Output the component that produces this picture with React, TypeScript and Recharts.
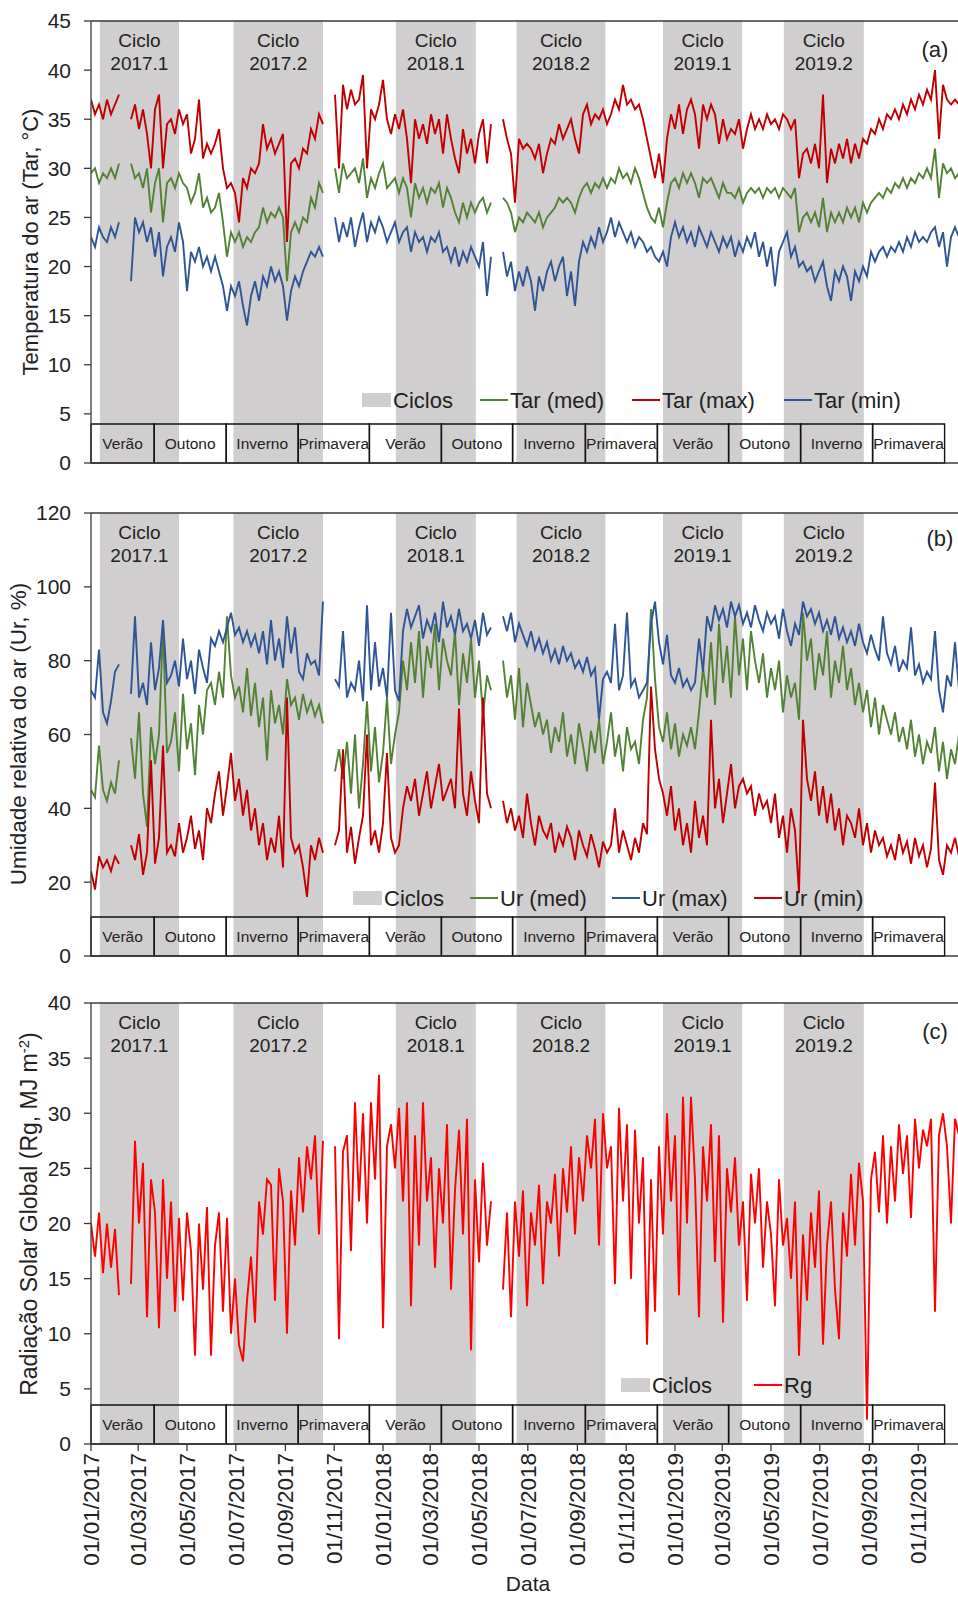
import { LineChart, Line, XAxis, YAxis, ReferenceArea, ReferenceLine } from 'recharts'

// one value every STEP days, day 0 = 01/01/2017
const STEP = 5

const TICK_DAYS = [0, 59, 120, 181, 243, 304, 365, 424, 485, 546, 608, 669, 730, 789, 850, 911, 973, 1034]
const TICK_LABELS = ['01/01/2017', '01/03/2017', '01/05/2017', '01/07/2017', '01/09/2017', '01/11/2017', '01/01/2018', '01/03/2018', '01/05/2018', '01/07/2018', '01/09/2018', '01/11/2018', '01/01/2019', '01/03/2019', '01/05/2019', '01/07/2019', '01/09/2019', '01/11/2019']

const CYCLES = ['2017.1', '2017.2', '2018.1', '2018.2', '2019.1', '2019.2']
const CYCLE_START = [11, 178, 381, 532, 715, 866]
const CYCLE_END = [110, 290, 481, 643, 814, 966]

const SEASONS = ['Verão', 'Outono', 'Inverno', 'Primavera', 'Verão', 'Outono', 'Inverno', 'Primavera', 'Verão', 'Outono', 'Inverno', 'Primavera']
const SEASON_EDGES = [0, 79, 169, 259, 348, 438, 527, 618, 708, 797, 887, 977, 1067]

// (a) air temperature, °C
const TAR_MED = [
  29.5, 30, 28.5, 29.5, 29, 30, 29, 30.5, null, null,
  30.5, 29, 29.5, 28, 30, 25.5, 28.5, 30, 24.5, 28.5,
  29, 28, 29.5, 28.5, 28, 26.5, 27.5, 29.5, 26, 27,
  25.5, 26, 27.5, 24.5, 21, 23.5, 22.5, 23.5, 22, 23,
  22.5, 23.5, 24, 26, 24.5, 25.5, 25, 26, 25, 18.5,
  23.5, 24.5, 23.5, 25, 24.5, 27, 26, 28.5, 27.5, null,
  null, 30, 27.5, 30.5, 29, 29.5, 30, 28.5, 31, 27,
  29, 28, 29.5, 30.5, 28, 28.5, 29, 27.5, 29, 28,
  25, 28.5, 27, 28, 26.5, 28, 27.5, 28.5, 26, 28,
  27, 25.5, 24.5, 26.5, 25, 26.5, 25.5, 26.5, 27, 25.5,
  26.5, null, null, 27, 26.5, 25.5, 23.5, 25, 24.5, 25.5,
  25, 24.5, 25.5, 24, 25, 25.5, 26, 27, 26.5, 27,
  26.5, 25.5, 27, 28, 28.5, 27.5, 28.5, 28, 29, 28,
  29, 28.5, 30, 29, 29.5, 28.5, 30, 29, 27.5, 26,
  25, 24.5, 26, 24, 26.5, 28.5, 29, 28, 29.5, 28.5,
  29.5, 28.5, 27, 29, 28.5, 29, 28, 27, 28.5, 27.5,
  27.5, 27, 28, 26.5, 27.5, 28, 27.5, 28, 27, 28,
  27.5, 28, 27, 28, 27.5, 27, 28, 23.5, 25, 25.5,
  24.5, 25.5, 24, 27, 23.5, 25.5, 24.5, 25.5, 24.5, 26,
  25, 26, 24.5, 26.5, 25.5, 26.5, 27, 27.5, 27, 28,
  27.5, 28.5, 28, 29, 28, 29, 28.5, 29.5, 29, 30,
  29, 32, 27, 30.5, 29.5, 30, 29, 29.5, 30,
]
const TAR_MAX = [
  37, 35.5, 36.5, 35, 37, 35.5, 36.5, 37.5, null, null,
  35, 36.5, 34, 36, 33.5, 30, 36, 37.5, 30, 34.5,
  35, 33.5, 36, 34.5, 35.5, 31.5, 33, 37, 31, 32.5,
  31.5, 32.5, 34, 30, 28, 28.5, 27.5, 24.5, 29, 28,
  30, 29.5, 30.5, 34.5, 32, 33, 31.5, 32.5, 33.5, 22.5,
  30.5, 31, 30, 32, 31.5, 34, 33, 35.5, 34.5, null,
  null, 37.5, 30, 38.5, 36, 38, 36.5, 37, 39.5, 30,
  36, 35, 36.5, 39, 35, 33.5, 35.5, 34, 36, 33,
  28.5, 35, 33, 34.5, 32.5, 35.5, 33.5, 35, 31.5, 35.5,
  33, 31, 29.5, 34, 31.5, 33, 30.5, 33.5, 35, 30.5,
  34.5, null, null, 35, 33, 31.5, 26.5, 33, 32, 32.5,
  32, 31, 32.5, 29.5, 31.5, 33, 32.5, 34.5, 33, 34,
  35, 33, 31.5, 35.5, 36.5, 34.5, 35.5, 35, 36, 34.5,
  35.5, 37, 36, 38.5, 36.5, 37, 36, 36.5, 35, 33,
  31, 29, 31.5, 28.5, 33, 35.5, 34, 36.5, 33.5, 36,
  37, 35.5, 32, 36.5, 35, 36.5, 35.5, 32.5, 35, 33,
  34, 33.5, 35, 32, 34, 35.5, 34, 35, 34, 35.5,
  34.5, 35, 34, 35.5, 35, 34, 35, 29, 31.5, 32,
  30.5, 32.5, 30, 37.5, 28.5, 32, 30.5, 32.5, 31, 33,
  30.5, 32.5, 31, 33, 32.5, 34, 33.5, 35, 34, 35.5,
  35, 36, 35, 36.5, 35.5, 37, 36, 37.5, 36.5, 38,
  37, 40, 33, 38.5, 37, 36.5, 37, 36.5, 37,
]
const TAR_MIN = [
  23, 22, 24, 23, 22.5, 24, 23, 24.5, null, null,
  18.5, 25, 23.5, 24.5, 22.5, 24, 21, 23.5, 19, 22,
  23, 21.5, 24.5, 22.5, 17.5, 21.5, 20.5, 22, 20, 21,
  19.5, 21, 19.5, 18, 15.5, 18, 17, 18.5, 16, 14,
  17, 18.5, 16.5, 19, 18, 20, 18.5, 19.5, 18, 14.5,
  17.5, 19, 18, 19.5, 20.5, 21.5, 21, 22, 21, null,
  null, 25, 22.5, 24.5, 23, 25, 22, 24, 25.5, 22.5,
  24.5, 23.5, 25, 24, 22.5, 23.5, 24.5, 22.5, 23.5, 24,
  21.5, 23.5, 22.5, 23, 21.5, 23, 22.5, 23.5, 21.5, 22,
  20.5, 22, 20, 21.5, 20.5, 22, 21, 20, 22.5, 17,
  21, null, null, 21.5, 19, 20.5, 17.5, 19.5, 18, 20,
  18.5, 15.5, 19, 17.5, 19.5, 20.5, 18.5, 20, 21, 17,
  19.5, 16, 20.5, 22.5, 21.5, 23, 22, 24, 22.5, 23.5,
  25, 23, 24.5, 23.5, 22.5, 23.5, 22, 23, 22.5, 21.5,
  22, 21, 20.5, 21.5, 20, 23, 24.5, 23, 24, 22.5,
  23.5, 22, 24, 23, 22, 23.5, 22.5, 21.5, 23, 22,
  23, 21, 22.5, 21.5, 23, 22, 23.5, 21, 22.5, 20,
  22, 18, 21.5, 22.5, 23.5, 21, 22, 20, 20.5, 19.5,
  20, 18.5, 19.5, 20.5, 18, 16.5, 19.5, 18.5, 20, 19,
  16.5, 19.5, 18.5, 20, 19, 21.5, 20.5, 21.5, 22, 21,
  22, 21.5, 22.5, 21.5, 23, 22, 23.5, 22.5, 23, 22.5,
  23.5, 24, 22, 23.5, 20, 23, 24, 23, 24,
]

// (b) relative humidity, %
const UR_MED = [
  45, 43, 57, 45, 42, 47, 44, 53, null, null,
  59, 48, 66, 44, 35, 62, 52, 60, 89, 55,
  58, 66, 50, 71, 56, 63, 49, 68, 60, 72,
  74, 68, 77, 70, 92, 76, 70, 73, 66, 78,
  65, 74, 62, 70, 53, 72, 63, 68, 60, 75,
  68, 70, 64, 71, 66, 69, 65, 68, 63, null,
  null, 50, 56, 48, 58, 44, 60, 40, 52, 69,
  50, 62, 47, 55, 70, 52, 60, 66, 80, 72,
  85, 74, 88, 70, 84, 78, 90, 72, 86, 80,
  76, 88, 68, 82, 74, 86, 70, 80, 65, 76,
  72, null, null, 80, 70, 76, 64, 78, 62, 74,
  68, 62, 66, 60, 64, 55, 62, 58, 66, 54,
  60, 52, 63, 57, 50, 61, 55, 64, 52, 58,
  66, 54, 60, 50, 62, 56, 58, 52, 64, 70,
  94, 75, 62, 58, 66, 56, 63, 54, 60, 57,
  62, 56, 66, 78, 70, 85, 68, 90, 74, 84,
  70, 92, 76, 86, 72, 88, 80, 74, 82, 70,
  78, 72, 80, 66, 76, 70, 74, 64, 93, 80,
  86, 72, 82, 76, 88, 70, 80, 74, 84, 72,
  78, 68, 74, 66, 72, 62, 70, 60, 68, 64,
  60, 66, 58, 62, 56, 64, 54, 60, 52, 58,
  55, 62, 50, 58, 48, 56, 52, 60, 58,
]
const UR_MAX = [
  72, 70, 83, 66, 63, 69, 77, 79, null, null,
  71, 92, 70, 74, 68, 85, 72, 78, 91, 74,
  76, 80, 73, 86, 75, 80, 71, 83, 78, 74,
  86, 84, 88, 85, 89, 93, 87, 89, 85, 88,
  84, 87, 82, 88, 79, 91, 80, 86, 78, 92,
  82, 89, 77, 75, 82, 79, 80, 76, 96, null,
  null, 75, 73, 88, 70, 74, 72, 80, 69, 95,
  72, 85, 73, 78, 70, 93, 72, 69, 88, 94,
  89, 92, 95, 86, 91, 88, 93, 85, 96, 89,
  92, 87, 94, 88, 90, 86, 91, 84, 93, 87,
  89, null, null, 92, 88, 93, 85, 90, 87, 84,
  88, 83, 86, 82, 85, 80, 83, 79, 84, 80,
  82, 78, 80, 77, 81, 76, 78, 64, 75, 77,
  74, 90, 72, 76, 93, 73, 75, 70, 72, 74,
  90, 96, 85, 79, 87, 76, 74, 78, 73, 75,
  72, 74, 86, 77, 92, 88, 95, 91, 94, 89,
  96, 92, 95, 90, 93, 89, 95, 91, 88, 93,
  90, 92, 86, 94, 88, 84, 90, 87, 96, 92,
  94, 90, 93, 88, 91, 87, 92, 86, 89, 85,
  88, 84, 90, 85, 82, 87, 83, 80, 92, 82,
  79, 84, 77, 80, 78, 89, 76, 79, 74, 77,
  75, 88, 72, 66, 76, 73, 85, 72, 76,
]
const UR_MIN = [
  23, 18, 27, 24, 26, 23, 27, 25, null, null,
  30, 26, 33, 22, 28, 53, 25, 32, 57, 28,
  30, 27, 36, 28, 32, 38, 29, 34, 26, 40,
  36, 44, 50, 38, 46, 55, 42, 48, 38, 45,
  34, 40, 30, 36, 26, 32, 28, 38, 24, 70,
  32, 28, 30, 24, 16, 30, 26, 32, 28, null,
  null, 30, 34, 56, 28, 35, 25, 32, 38, 60,
  30, 34, 28, 36, 55, 32, 28, 30, 40, 46,
  42, 48, 38, 44, 50, 40, 46, 52, 42, 45,
  48, 40, 67, 44, 38, 50, 42, 36, 70, 44,
  40, null, null, 42, 36, 40, 34, 38, 32, 44,
  36, 30, 38, 34, 32, 36, 28, 33, 30, 35,
  32, 26, 34, 30, 27, 33, 29, 24, 31, 28,
  30, 40, 28, 34, 30, 26, 32, 28, 36, 33,
  73, 56, 48, 44, 38, 46, 34, 40, 30, 36,
  28, 42, 32, 38, 30, 64, 40, 48, 36, 44,
  52, 40, 46, 48, 44, 46, 38, 44, 40, 42,
  36, 44, 32, 38, 28, 40, 34, 17, 64, 48,
  42, 50, 38, 46, 36, 44, 34, 40, 30, 38,
  36, 32, 40, 30, 36, 28, 34, 30, 32, 27,
  30, 26, 33, 28, 31, 25, 32, 27, 30, 24,
  29, 47, 26, 22, 30, 28, 32, 27, 30,
]

// (c) global solar radiation, MJ m-2
const RG = [
  20, 17, 21, 15.5, 20, 16, 19.5, 13.5, null, null,
  14.5, 27.5, 20, 25.5, 11.5, 24, 21, 10.5, 24, 15,
  22, 12, 20.5, 13, 21, 17.5, 8, 20, 14, 21.5,
  8, 18, 21, 12, 20.5, 10, 15, 9, 7.5, 13,
  17, 11, 22, 19, 24, 23.5, 13, 25, 22, 10,
  23, 18, 26, 21, 27, 24, 28, 19, 27.5, null,
  null, 27, 9.5, 26.5, 28, 17.5, 31, 22, 30, 20,
  31, 24, 33.5, 10.5, 27, 29, 25, 30.5, 22, 31,
  12.5, 28, 18, 31, 22, 26, 16, 25, 20, 29,
  14, 23, 28.5, 19, 29.5, 8.5, 24, 16.5, 25.5, 18,
  22, null, null, 14, 21, 11.5, 22, 17, 23, 12.5,
  21, 18, 23.5, 14.5, 22, 20, 24.5, 17, 25, 21,
  27, 19, 26, 22, 28, 25, 29.5, 18, 30, 25,
  27, 14.5, 30.5, 22, 29, 15, 28.5, 20, 26, 9,
  24, 12, 27, 19, 30, 22, 28, 13.5, 31.5, 20,
  31.5, 24, 11.5, 27, 22, 29, 16.5, 28, 11, 25,
  21, 26, 18, 22, 13, 24.5, 20, 25, 16, 22,
  19, 12.5, 24, 18, 20.5, 15, 22, 8, 19, 13,
  21, 16, 23, 9, 18, 22, 14, 9.5, 21, 17,
  24.5, 18, 25.5, 22, 2.2, 24, 26.5, 21, 28, 20,
  27, 22, 29, 24.5, 28, 20.5, 29.5, 25, 28.5, 27,
  29.5, 12, 28, 30, 27, 20, 29.5, 28, 30,
]

const FONT = '"Liberation Sans", Arial, Helvetica, sans-serif'
const INK = '#222'
const AXIS = '#3a3a3a'
const BAND = '#D0CECE'
const GREEN = '#548235'
const DARKRED = '#C00000'
const BLUE = '#2F5597'
const RED = '#FF0000'
const BOX_PX = 39 // season strip height

const rowsA = TAR_MAX.map((_, i) => ({ d: i * STEP, med: TAR_MED[i], max: TAR_MAX[i], min: TAR_MIN[i] }))
const rowsB = UR_MAX.map((_, i) => ({ d: i * STEP, med: UR_MED[i], max: UR_MAX[i], min: UR_MIN[i] }))
const rowsC = RG.map((v, i) => ({ d: i * STEP, rg: v }))

function CycleLabel(props: any) {
  const vb = props.viewBox || {}
  const cx = vb.x + vb.width / 2
  return (
    <text textAnchor="middle" fontSize={19} fill={INK} fontFamily={FONT}>
      <tspan x={cx} y={vb.y + 26}>Ciclo</tspan>
      <tspan x={cx} y={vb.y + 49}>{props.name}</tspan>
    </text>
  )
}

function SeasonLabel(props: any) {
  const vb = props.viewBox || {}
  return (
    <text x={vb.x + vb.width / 2} y={vb.y + vb.height / 2} dy="0.35em" textAnchor="middle" fontSize={15.5} fill={INK} fontFamily={FONT}>
      {props.name}
    </text>
  )
}

function DateTick({ x, y, payload }: any) {
  const label = TICK_LABELS[TICK_DAYS.indexOf(payload.value)]
  return (
    <text x={x} y={y} transform={`rotate(-90 ${x} ${y})`} dy="0.35em" textAnchor="end" fontSize={22.5} fill={INK} fontFamily={FONT}>
      {label}
    </text>
  )
}

type Series = { key: string; color: string }

function Panel({ top, height, marginTop, marginBottom, axisHeight, rows, yMax, yTicks, series, dates }: any) {
  const plotH = height - marginTop - marginBottom - axisHeight
  const boxTop = (yMax * BOX_PX) / plotH
  return (
    <div style={{ position: 'absolute', left: 0, top }}>
      <LineChart width={1000} height={height} data={rows} margin={{ top: marginTop, right: 33, bottom: marginBottom, left: 0 }}>
        {CYCLES.map((c, i) => (
          <ReferenceArea key={c} x1={CYCLE_START[i]} x2={CYCLE_END[i]} y1={0} y2={yMax} fill={BAND} fillOpacity={1} stroke="none" label={<CycleLabel name={c} />} />
        ))}
        {SEASONS.map((s, i) => (
          <ReferenceArea key={'s' + i} x1={SEASON_EDGES[i]} x2={SEASON_EDGES[i + 1]} y1={0} y2={boxTop} fill="none" fillOpacity={0} stroke="#111" strokeWidth={1.4} label={<SeasonLabel name={s} />} />
        ))}
        <ReferenceLine y={yMax} stroke={AXIS} strokeWidth={1.3} />
        <XAxis
          type="number"
          dataKey="d"
          domain={[0, 1095]}
          ticks={TICK_DAYS}
          interval={0}
          tickSize={7}
          height={axisHeight}
          axisLine={{ stroke: AXIS, strokeWidth: 1.3 }}
          tickLine={{ stroke: AXIS, strokeWidth: 1.3 }}
          tick={dates ? <DateTick /> : false}
          allowDataOverflow
        />
        <YAxis
          type="number"
          domain={[0, yMax]}
          ticks={yTicks}
          interval={0}
          width={91}
          tickSize={7}
          tickMargin={13}
          axisLine={{ stroke: AXIS, strokeWidth: 1.3 }}
          tickLine={{ stroke: AXIS, strokeWidth: 1.3 }}
          tick={{ fontSize: 21, fill: INK, fontFamily: FONT }}
          allowDataOverflow
        />
        {series.map((s: Series) => (
          <Line key={s.key} type="linear" dataKey={s.key} stroke={s.color} strokeWidth={1.9} dot={false} activeDot={false} isAnimationActive={false} />
        ))}
      </LineChart>
    </div>
  )
}

function LegendRow({ y, items }: { y: number; items: { x: number; label: string; color?: string }[] }) {
  return (
    <g fontFamily={FONT} fontSize={22} fill={INK}>
      {items.map((it) =>
        it.color ? (
          <g key={it.label}>
            <line x1={it.x} x2={it.x + 28} y1={y} y2={y} stroke={it.color} strokeWidth={2} />
            <text x={it.x + 30} y={y} dy="0.36em">{it.label}</text>
          </g>
        ) : (
          <g key={it.label}>
            <rect x={it.x} y={y - 7} width={29} height={14} fill={BAND} />
            <text x={it.x + 31} y={y} dy="0.36em">{it.label}</text>
          </g>
        ),
      )}
    </g>
  )
}

export default function App() {
  return (
    <div style={{ position: 'absolute', left: 0, top: 0, width: 958, height: 1600, overflow: 'hidden', background: '#fff' }}>
      <Panel top={0} height={480} marginTop={21} marginBottom={7} axisHeight={10} rows={rowsA} yMax={45} yTicks={[0, 5, 10, 15, 20, 25, 30, 35, 40, 45]}
        series={[{ key: 'med', color: GREEN }, { key: 'max', color: DARKRED }, { key: 'min', color: BLUE }]} />
      <Panel top={490} height={483} marginTop={23} marginBottom={7} axisHeight={10} rows={rowsB} yMax={120} yTicks={[0, 20, 40, 60, 80, 100, 120]}
        series={[{ key: 'med', color: GREEN }, { key: 'max', color: BLUE }, { key: 'min', color: DARKRED }]} />
      <Panel top={980} height={620} marginTop={23} marginBottom={16} axisHeight={140} rows={rowsC} yMax={40} yTicks={[0, 5, 10, 15, 20, 25, 30, 35, 40]}
        series={[{ key: 'rg', color: RED }]} dates />

      <svg width={958} height={1600} style={{ position: 'absolute', left: 0, top: 0, pointerEvents: 'none' }}>
        <g fontFamily={FONT} fill={INK}>
          <text x={30} y={242} transform="rotate(-90 30 242)" textAnchor="middle" dy="0.35em" fontSize={22}>Temperatura do ar (Tar, °C)</text>
          <text x={18} y={734} transform="rotate(-90 18 734)" textAnchor="middle" dy="0.35em" fontSize={22.5}>Umidade relativa do ar (Ur, %)</text>
          <text x={29} y={1214} transform="rotate(-90 29 1214)" textAnchor="middle" dy="0.35em" fontSize={23}>
            Radiação Solar Global (Rg, MJ m<tspan fontSize={15} dy={-8}>-2</tspan><tspan dy={8}>)</tspan>
          </text>
          <text x={935} y={49} textAnchor="middle" dy="0.35em" fontSize={22}>(a)</text>
          <text x={940} y={538} textAnchor="middle" dy="0.35em" fontSize={22}>(b)</text>
          <text x={935} y={1031} textAnchor="middle" dy="0.35em" fontSize={22}>(c)</text>
          <text x={528} y={1584} textAnchor="middle" dy="0.35em" fontSize={21}>Data</text>
        </g>
        <LegendRow y={400} items={[{ x: 362, label: 'Ciclos' }, { x: 480, label: 'Tar (med)', color: GREEN }, { x: 632, label: 'Tar (max)', color: DARKRED }, { x: 784, label: 'Tar (min)', color: BLUE }]} />
        <LegendRow y={898} items={[{ x: 353, label: 'Ciclos' }, { x: 470, label: 'Ur (med)', color: GREEN }, { x: 612, label: 'Ur (max)', color: BLUE }, { x: 754, label: 'Ur (min)', color: DARKRED }]} />
        <LegendRow y={1385} items={[{ x: 621, label: 'Ciclos' }, { x: 754, label: 'Rg', color: RED }]} />
      </svg>
    </div>
  )
}
